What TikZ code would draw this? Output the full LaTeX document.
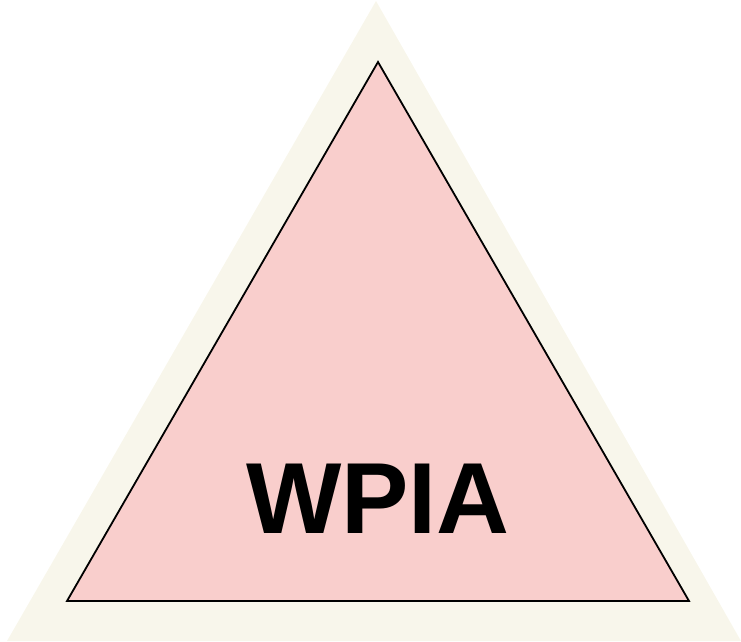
\documentclass[tikz,border=0pt]{standalone}
\usepackage{fontspec}
\setmainfont{Liberation Sans}
\usetikzlibrary{positioning}
\definecolor{creamfill}{HTML}{F8F6EB}
\definecolor{pinkfill}{HTML}{F9CECC}

\begin{document}
\begin{tikzpicture}[
    x=1pt, y=-1pt,
    outer/.style={fill=creamfill},
    inner/.style={fill=pinkfill, draw=black, line width=1.8pt, line join=miter},
    label/.style={font=\fontsize{101}{101}\selectfont\bfseries, inner sep=0pt, anchor=base}
]
\useasboundingbox (0,0) rectangle (741,641);

% Outer triangle
\coordinate (otop) at (376,1);
\coordinate (oleft) at (7,641);
\coordinate (oright) at (741,641);
\fill[outer] (otop) -- (oleft) -- (oright) -- cycle;

% Inner triangle
\coordinate (itop) at (378,62);
\coordinate (ileft) at (67,601);
\coordinate (iright) at (689,601);
\draw[inner] (itop) -- (ileft) -- (iright) -- cycle;

% Label
\node[label] (wpia) at (378,533) {WPIA};

\end{tikzpicture}
\end{document}
